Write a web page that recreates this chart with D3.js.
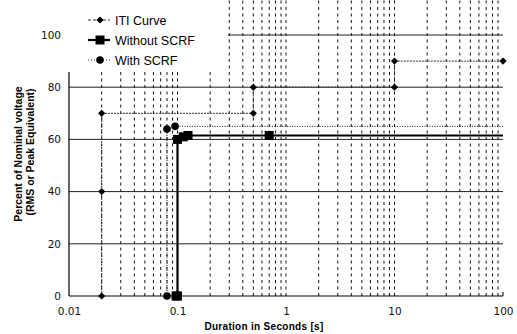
<!DOCTYPE html>
<html><head><meta charset="utf-8">
<script src="https://cdn.jsdelivr.net/npm/d3@7/dist/d3.min.js"></script>
<style>html,body{margin:0;padding:0;background:#fff;}svg{display:block;}</style>
</head><body>
<script>
// ---- data ----
const xTickValues = [0.01, 0.1, 1, 10, 100];
const xTickLabels = ["0.01", "0.1", "1", "10", "100"];
const yTickValues = [0, 20, 40, 60, 80, 100];
const seriesNames = ["ITI Curve", "Without SCRF", "With SCRF"];
// ITI Curve
const itiX = [0.02, 0.02, 0.02, 0.5, 0.5, 10, 10, 100];
const itiY = [0, 40, 70, 70, 80, 80, 90, 90];
// Without SCRF (last point has no marker)
const woX = [0.097, 0.1, 0.1, 0.113, 0.125, 0.7, 100];
const woY = [0, 0, 60, 61, 61.5, 61.5, 61.5];
// With SCRF (last point has no marker)
const wX = [0.08, 0.08, 0.095, 100];
const wY = [0, 64, 65, 65];

const W = 517, H = 334;
const svg = d3.select("body").append("svg").attr("width", W).attr("height", H)
  .style("font-family", "'Liberation Sans', Arial, sans-serif");

const x = d3.scaleLog().domain([0.01, 100]).range([69, 503]);
const y = d3.scaleLinear().domain([0, 100]).range([296, 35]);

// vertical dashed grid (log minor + major)
const vGrid = [];
[0.01, 0.1, 1, 10].forEach(d => { for (let k = 1; k <= 9; k++) { const v = k * d; if (v > 0.01) vGrid.push(v); } });
svg.append("g").selectAll("line").data(vGrid).join("line")
  .attr("x1", d => x(d)).attr("x2", d => x(d))
  .attr("y1", y(0)).attr("y2", 0)
  .attr("stroke", "#111").attr("stroke-width", 1).attr("stroke-dasharray", "3,3.5");

// horizontal grid
svg.append("g").selectAll("line").data(yTickValues.filter(v => v > 0)).join("line")
  .attr("x1", x(0.01)).attr("x2", x(100))
  .attr("y1", d => y(d)).attr("y2", d => y(d))
  .attr("stroke", "#222").attr("stroke-width", 1);

// axes lines
svg.append("line").attr("x1", x(0.01)).attr("x2", x(100)).attr("y1", y(0)).attr("y2", y(0))
  .attr("stroke", "#000").attr("stroke-width", 1.2);
svg.append("line").attr("x1", x(0.01)).attr("x2", x(0.01)).attr("y1", y(0)).attr("y2", 0)
  .attr("stroke", "#000").attr("stroke-width", 1.2);
svg.append("line").attr("x1", x(100)).attr("x2", x(100)).attr("y1", y(0)).attr("y2", y(0) - 4)
  .attr("stroke", "#000").attr("stroke-width", 1);

// axes with D3 (labels only)
const xAxis = svg.append("g").attr("transform", `translate(0,${y(0)})`)
  .call(d3.axisBottom(x).tickValues(xTickValues).tickFormat((d, i) => xTickLabels[i]).tickSize(0).tickPadding(12));
xAxis.select(".domain").remove();
xAxis.selectAll("text").style("font-family", "'DejaVu Sans', sans-serif").style("font-size", "10.5px").attr("fill", "#111");

const yAxis = svg.append("g").attr("transform", `translate(${x(0.01)},0)`)
  .call(d3.axisLeft(y).tickValues(yTickValues).tickSize(0).tickPadding(8));
yAxis.select(".domain").remove();
yAxis.selectAll("text").style("font-family", "'DejaVu Sans', sans-serif").style("font-size", "10.5px").attr("fill", "#111");

// series
const pts = (xs, ys) => xs.map((v, i) => [v, ys[i]]);
const line = d3.line().x(d => x(d[0])).y(d => y(d[1]));
const iti = pts(itiX, itiY), wo = pts(woX, woY), ws = pts(wX, wY);

svg.append("path").attr("d", line(ws)).attr("fill", "none")
  .attr("stroke", "#111").attr("stroke-width", 1).attr("stroke-dasharray", "1,1.5");
svg.append("path").attr("d", line(iti)).attr("fill", "none")
  .attr("stroke", "#333").attr("stroke-width", 1).attr("stroke-dasharray", "2,1");
svg.append("path").attr("d", line(wo)).attr("fill", "none")
  .attr("stroke", "#000").attr("stroke-width", 2.2);

const diamond = d3.symbol().type(d3.symbolSquare).size(26);
svg.append("g").selectAll("path").data(iti).join("path")
  .attr("transform", d => `translate(${x(d[0])},${y(d[1])}) rotate(45)`).attr("d", diamond).attr("fill", "#000");
svg.append("g").selectAll("circle").data(ws.slice(0, -1)).join("circle")
  .attr("cx", d => x(d[0])).attr("cy", d => y(d[1])).attr("r", 3.8).attr("fill", "#000");
svg.append("g").selectAll("rect").data(wo.slice(0, -1)).join("rect")
  .attr("x", d => x(d[0]) - 4.5).attr("y", d => y(d[1]) - 4.5).attr("width", 9).attr("height", 9).attr("fill", "#000");

// legend (white box covering upper-left of plot)
const lg = svg.append("g");
lg.append("rect").attr("x", 64).attr("y", 0).attr("width", 164).attr("height", 72).attr("fill", "#fff");
const rows = [20, 40, 60];
const lx1 = 88, lx2 = 110, mx = 100;
lg.append("line").attr("x1", lx1).attr("x2", lx2).attr("y1", rows[0]).attr("y2", rows[0])
  .attr("stroke", "#333").attr("stroke-width", 1).attr("stroke-dasharray", "3,2");
lg.append("path").attr("transform", `translate(${mx},${rows[0]}) rotate(45)`).attr("d", diamond).attr("fill", "#000");
lg.append("line").attr("x1", lx1).attr("x2", lx2).attr("y1", rows[1]).attr("y2", rows[1])
  .attr("stroke", "#000").attr("stroke-width", 2.2);
lg.append("rect").attr("x", mx - 4.5).attr("y", rows[1] - 4.5).attr("width", 9).attr("height", 9).attr("fill", "#000");
lg.append("line").attr("x1", lx1).attr("x2", lx2).attr("y1", rows[2]).attr("y2", rows[2])
  .attr("stroke", "#111").attr("stroke-width", 1).attr("stroke-dasharray", "1,2");
lg.append("circle").attr("cx", mx).attr("cy", rows[2]).attr("r", 3.8).attr("fill", "#000");
lg.selectAll("text").data(seriesNames).join("text")
  .attr("x", 115).attr("y", (d, i) => rows[i] + 4.5)
  .style("font-size", "12.5px").attr("fill", "#000").text(d => d);

// axis titles
svg.append("text").attr("x", 264).attr("y", 330).attr("text-anchor", "middle")
  .style("font-size", "10px").style("font-weight", "bold").style("letter-spacing", "0.3px")
  .text("Duration in Seconds [s]");
svg.append("text").attr("transform", "translate(22,154) rotate(-90)").attr("text-anchor", "middle")
  .style("font-size", "10.5px").style("font-weight", "bold")
  .text("Percent of Nominal voltage");
svg.append("text").attr("transform", "translate(34,152) rotate(-90)").attr("text-anchor", "middle")
  .style("font-size", "10.5px").style("font-weight", "bold")
  .text("(RMS or Peak Equivalent)");
</script>
</body></html>
